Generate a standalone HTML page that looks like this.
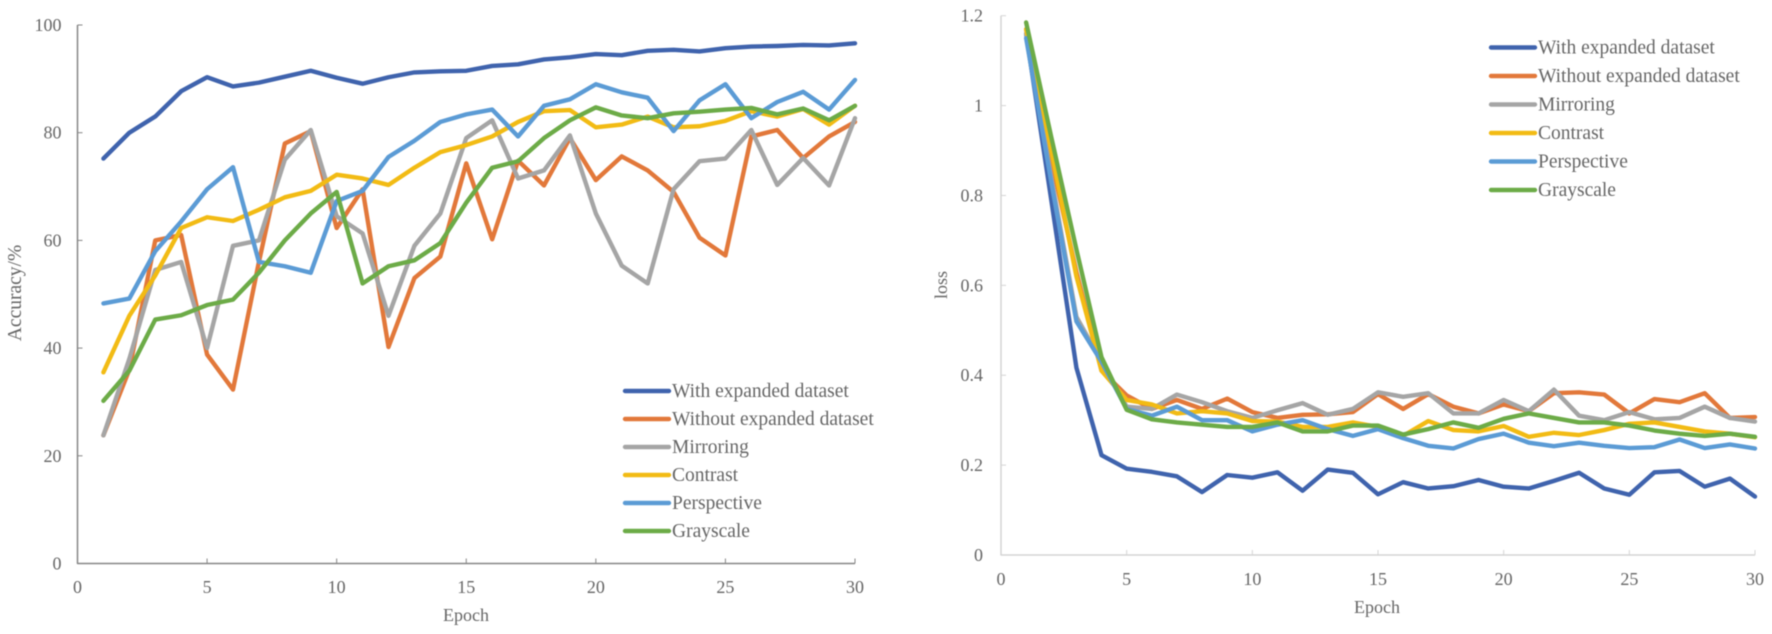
<!DOCTYPE html>
<html lang="en">
<head>
<meta charset="utf-8">
<title>Accuracy and loss by epoch</title>
<style>
  html, body { margin: 0; padding: 0; background: #fff; }
  #stage { display: block; width: 1772px; height: 634px; }
  text { font-family: "Liberation Serif", serif; fill: #666666; }
</style>
</head>
<body>
<svg id="stage" xmlns="http://www.w3.org/2000/svg" width="1772" height="634" viewBox="0 0 1772 634">
  <rect width="1772" height="634" fill="#ffffff"/>
  <g id="root" style="filter:blur(0.5px)"></g>
</svg>
<script>
const seriesNames = ["With expanded dataset","Without expanded dataset","Mirroring","Contrast","Perspective","Grayscale"];
const seriesSlugs = ["with-expanded","without-expanded","mirroring","contrast","perspective","grayscale"];
const seriesColors = ["#3f63ad","#e2783a","#a5a5a5","#f2bb14","#5b9bd5","#6cab47"];
const epochs = [1,2,3,4,5,6,7,8,9,10,11,12,13,14,15,16,17,18,19,20,21,22,23,24,25,26,27,28,29,30];
const xTickValues = [0,5,10,15,20,25,30];

const accYTicks = [0,20,40,60,80,100];
const accWith = [75.2,80,83,87.7,90.3,88.6,89.3,90.4,91.5,90.2,89.1,90.3,91.2,91.4,91.5,92.4,92.7,93.6,94,94.6,94.4,95.2,95.4,95.1,95.7,96,96.1,96.3,96.2,96.6];
const accWithout = [23.8,36,60,61,38.8,32.3,56,78,80.3,62.3,69.5,40.2,53,57,74.3,60.2,74.8,70.2,79,71.2,75.6,73,69,60.5,57.2,79.3,80.5,75.3,79.3,82];
const accMirroring = [23.8,38,54.5,56,40,59,60,75,80.5,64.5,61.3,46,59,65,79,82.3,71.5,73,79.5,65,55.3,52,69.5,74.7,75.2,80.5,70.3,75.3,70.2,82.7];
const accContrast = [35.5,46,53.5,62.3,64.3,63.6,65.7,68,69.2,72.2,71.5,70.3,73.5,76.4,77.7,79.3,82,84,84.2,81,81.5,83,81,81.2,82.2,84,83,84.4,81.5,85];
const accPerspective = [48.3,49.2,58,63.5,69.5,73.6,56,55.2,54,67.3,69.2,75.5,78.5,82,83.4,84.3,79.3,85,86.2,89,87.5,86.5,80.3,86,89,82.7,85.7,87.6,84.3,89.8];
const accGrayscale = [30.2,35.8,45.3,46.1,48,49,54,60,65,69,52,55.2,56.3,59.5,67,73.5,74.7,79,82.3,84.7,83.2,82.7,83.6,83.9,84.3,84.6,83.4,84.5,82.3,85];

const lossYTicks = [0,0.2,0.4,0.6,0.8,1,1.2];
const lossWith = [1.16,0.79,0.417,0.222,0.192,0.185,0.175,0.14,0.178,0.172,0.184,0.143,0.19,0.183,0.135,0.162,0.148,0.153,0.167,0.152,0.148,0.165,0.183,0.148,0.134,0.184,0.187,0.152,0.17,0.13];
const lossWithout = [1.17,0.88,0.63,0.41,0.355,0.325,0.345,0.325,0.348,0.318,0.305,0.312,0.313,0.318,0.358,0.325,0.358,0.33,0.315,0.335,0.32,0.36,0.362,0.357,0.315,0.347,0.34,0.36,0.305,0.307];
const lossMirroring = [1.16,0.84,0.53,0.43,0.33,0.325,0.357,0.34,0.32,0.305,0.322,0.338,0.312,0.325,0.362,0.352,0.36,0.315,0.315,0.345,0.32,0.368,0.31,0.3,0.318,0.302,0.305,0.33,0.305,0.297];
const lossContrast = [1.17,0.9,0.62,0.41,0.345,0.335,0.315,0.32,0.315,0.298,0.297,0.285,0.285,0.295,0.285,0.265,0.298,0.278,0.275,0.287,0.263,0.272,0.267,0.278,0.292,0.295,0.285,0.275,0.27,0.262];
const lossPerspective = [1.15,0.83,0.52,0.43,0.325,0.31,0.33,0.3,0.3,0.275,0.29,0.3,0.28,0.265,0.28,0.26,0.243,0.237,0.258,0.27,0.25,0.242,0.25,0.243,0.238,0.24,0.257,0.238,0.246,0.237];
const lossGrayscale = [1.185,0.93,0.68,0.44,0.323,0.302,0.295,0.29,0.285,0.285,0.295,0.275,0.275,0.288,0.288,0.268,0.28,0.295,0.283,0.303,0.315,0.305,0.295,0.295,0.288,0.277,0.27,0.265,0.27,0.263];

const accSeries = [accWith,accWithout,accMirroring,accContrast,accPerspective,accGrayscale];
const lossSeries = [lossWith,lossWithout,lossMirroring,lossContrast,lossPerspective,lossGrayscale];

const NS = "http://www.w3.org/2000/svg";
const root = document.getElementById("root");

function svgEl(tag, attrs, parent) {
  const el = document.createElementNS(NS, tag);
  Object.keys(attrs).forEach(function (k) { el.setAttribute(k, attrs[k]); });
  parent.appendChild(el);
  return el;
}

function drawChart(cfg) {
  const g = svgEl("g", {}, root);
  
  

  const xMax = xTickValues[xTickValues.length - 1];
  const yMax = cfg.yTicks[cfg.yTicks.length - 1];
  const sx = function (v) { return cfg.x0 + (cfg.x1 - cfg.x0) * v / xMax; };
  const sy = function (v) { return cfg.y0 + (cfg.y1 - cfg.y0) * v / yMax; };

  const yAxis = svgEl("line", {x1: cfg.x0, x2: cfg.x0, y1: cfg.y0 + 0.5, y2: cfg.y1, stroke: cfg.axis, "stroke-width": 1.5}, g);
  
  
  const xAxis = svgEl("line", {x1: cfg.x0, x2: cfg.x1, y1: cfg.y0, y2: cfg.y0, stroke: cfg.axis, "stroke-width": 1.5}, g);
  
  

  cfg.yTicks.forEach(function (t) {
    const tick = svgEl("line", {x1: cfg.x0, x2: cfg.x0 + 5, y1: sy(t), y2: sy(t), stroke: cfg.axis, "stroke-width": 1}, g);
    
    
    const label = svgEl("text", {x: cfg.x0 - cfg.yLabelGap, y: sy(t) + 6, "text-anchor": "end", "font-size": 18}, g);
    label.textContent = String(t);
    
    
  });

  xTickValues.forEach(function (t) {
    const tick = svgEl("line", {x1: sx(t), x2: sx(t), y1: cfg.y0, y2: cfg.y0 - 5, stroke: cfg.axis, "stroke-width": 1}, g);
    
    
    const label = svgEl("text", {x: sx(t), y: cfg.xLabelY, "text-anchor": "middle", "font-size": 18}, g);
    label.textContent = String(t);
    
    
  });

  const xTitle = svgEl("text", {x: cfg.xTitleX, y: cfg.xTitleY, "text-anchor": "middle", "font-size": 18}, g);
  xTitle.textContent = "Epoch";
  
  

  const yTitle = svgEl("text", {x: 0, y: 0, "text-anchor": "middle", "font-size": cfg.yTitleSize,
    transform: "translate(" + cfg.yTitleX + "," + cfg.yTitleY + ") rotate(-90)"}, g);
  yTitle.textContent = cfg.yTitle;
  
  

  cfg.series.forEach(function (vals, i) {
    const d = vals.map(function (v, k) {
      return (k ? "L" : "M") + sx(epochs[k]).toFixed(2) + " " + sy(v).toFixed(2);
    }).join(" ");
    const line = svgEl("path", {d: d, fill: "none", stroke: seriesColors[i], "stroke-width": 4.4, "stroke-linejoin": "round", "stroke-linecap": "round"}, g);
    
    
  });

  const legend = svgEl("g", {}, g);
  
  
  seriesNames.forEach(function (name, i) {
    const y = cfg.legY + i * cfg.legStep;
    const entry = svgEl("g", {}, legend);
    
    
    svgEl("line", {x1: cfg.legX, x2: cfg.legX + 44, y1: y, y2: y, stroke: seriesColors[i], "stroke-width": 4.4, "stroke-linecap": "round"}, entry);
    const txt = svgEl("text", {x: cfg.legX + 47, y: y + 6, "font-size": 19.5}, entry);
    txt.textContent = name;
  });
}

drawChart({id: "accuracy", x0: 77.5, x1: 855, y0: 563.5, y1: 25, yTicks: accYTicks, series: accSeries,
  axis: "#858585", yLabelGap: 16, xLabelY: 593, xTitleX: 466, xTitleY: 621,
  yTitle: "Accuracy/%", yTitleSize: 19.5, yTitleX: 21, yTitleY: 293,
  legX: 625, legY: 391, legStep: 28});

drawChart({id: "loss", x0: 1001, x1: 1755, y0: 555, y1: 15.7, yTicks: lossYTicks, series: lossSeries,
  axis: "#d4d4d4", yLabelGap: 18, xLabelY: 585, xTitleX: 1377, xTitleY: 613,
  yTitle: "loss", yTitleSize: 18, yTitleX: 947, yTitleY: 285,
  legX: 1491, legY: 47.5, legStep: 28.5});
</script>
</body>
</html>
